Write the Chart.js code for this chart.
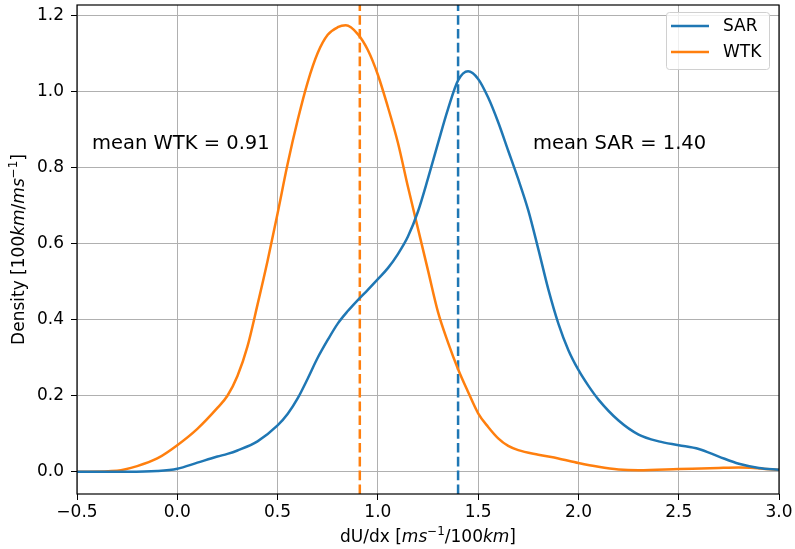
<!DOCTYPE html>
<html>
<head>
<meta charset="utf-8">
<script src="https://cdn.jsdelivr.net/npm/chart.js@4/dist/chart.umd.min.js"></script>
<style>
  html, body { margin: 0; padding: 0; background: #fff; }
  #wrap { width: 795px; height: 549px; }
</style>
</head>
<body>
<div id="wrap"><canvas id="kde"></canvas></div>
<script>
// density curves
const sarX = [-0.5, -0.25, -0.1, 0.0, 0.1, 0.2, 0.25, 0.3, 0.4, 0.5, 0.55, 0.6, 0.65, 0.7, 0.75, 0.8, 0.85, 0.9, 0.95, 1.0,
  1.05, 1.1, 1.15, 1.2, 1.25, 1.3, 1.35, 1.4, 1.45, 1.5, 1.55, 1.6, 1.65, 1.7, 1.75, 1.8, 1.85, 1.9, 1.95, 2.0,
  2.05, 2.1, 2.2, 2.3, 2.4, 2.5, 2.6, 2.7, 2.8, 2.9, 3.0];
const sarY = [0.0, 0.0, 0.002, 0.008, 0.024, 0.04, 0.047, 0.056, 0.08, 0.122, 0.152, 0.193, 0.245, 0.30, 0.347, 0.39, 0.423, 0.452, 0.479, 0.507,
  0.536, 0.573, 0.619, 0.685, 0.772, 0.865, 0.955, 1.03, 1.054, 1.034, 0.985, 0.92, 0.845, 0.77, 0.688, 0.586, 0.48, 0.39, 0.32, 0.268,
  0.226, 0.19, 0.135, 0.098, 0.08, 0.07, 0.06, 0.04, 0.021, 0.01, 0.005];

const wtkX = [-0.5, -0.3, -0.2, -0.1, 0.0, 0.1, 0.2, 0.25, 0.3, 0.35, 0.4, 0.45, 0.5, 0.55, 0.6, 0.65, 0.7, 0.75, 0.8, 0.84,
  0.9, 0.95, 1.0, 1.05, 1.1, 1.15, 1.2, 1.25, 1.3, 1.35, 1.4, 1.45, 1.5, 1.55, 1.6, 1.65, 1.7, 1.8, 1.9, 2.0,
  2.1, 2.2, 2.3, 2.5, 2.7, 2.8, 3.0];
const wtkY = [0.0, 0.003, 0.015, 0.035, 0.07, 0.113, 0.168, 0.2, 0.252, 0.33, 0.44, 0.555, 0.68, 0.81, 0.925, 1.025, 1.102, 1.15, 1.17, 1.175,
  1.152, 1.11, 1.045, 0.96, 0.866, 0.75, 0.64, 0.53, 0.42, 0.34, 0.27, 0.21, 0.154, 0.118, 0.088, 0.068, 0.057, 0.045, 0.035, 0.023,
  0.013, 0.006, 0.004, 0.007, 0.01, 0.011, 0.005];

const meanSAR = 1.40;
const meanWTK = 0.91;

const xTicks = [-0.5, 0.0, 0.5, 1.0, 1.5, 2.0, 2.5, 3.0];
const yTicks = [0.0, 0.2, 0.4, 0.6, 0.8, 1.0, 1.2];
const xMin = -0.5, xMax = 3.0;
const yMin = -0.0585, yMax = 1.2285;

const BLUE = '#1f77b4';
const ORANGE = '#ff7f0e';
const FONT = "'DejaVu Sans', sans-serif";
const FS = 17;

function pts(xs, ys) {
    return xs.map((x, i) => ({ x: x, y: ys[i] }));
}

function fmt(v) {
    return v.toFixed(1).replace('-', '\u2212');
}

// draws a run of text pieces (normal / italic / superscript) centred on x,y
function drawRich(ctx, segs, x, y, size, rotate) {
    ctx.save();
    ctx.translate(x, y);
    if (rotate) ctx.rotate(-Math.PI / 2);
    const fontOf = s => {
        const sz = s.sup ? size * 0.7 : size;
        return (s.italic ? 'italic ' : '') + sz + 'px ' + FONT;
    };
    let total = 0;
    segs.forEach(s => { ctx.font = fontOf(s); total += ctx.measureText(s.t).width; });
    let cx = -total / 2;
    ctx.fillStyle = '#000';
    ctx.textBaseline = 'alphabetic';
    ctx.textAlign = 'left';
    segs.forEach(s => {
        ctx.font = fontOf(s);
        ctx.fillText(s.t, cx, size * 0.36 - (s.sup ? size * 0.42 : 0));
        cx += ctx.measureText(s.t).width;
    });
    ctx.restore();
}

const decorPlugin = {
    id: 'decor',
    afterDraw(chart) {
        const ctx = chart.ctx;
        const a = chart.chartArea;
        const xs = chart.scales.x, ys = chart.scales.y;

        // frame
        ctx.save();
        ctx.strokeStyle = '#000';
        ctx.lineWidth = 1.2;
        ctx.strokeRect(a.left, a.top, a.right - a.left, a.bottom - a.top);
        ctx.restore();

        // annotations
        ctx.save();
        ctx.font = '19.5px ' + FONT;
        ctx.fillStyle = '#000';
        ctx.textBaseline = 'middle';
        ctx.textAlign = 'left';
        ctx.fillText('mean WTK = ' + meanWTK.toFixed(2), xs.getPixelForValue(-0.425), ys.getPixelForValue(0.864));
        ctx.fillText('mean SAR = ' + meanSAR.toFixed(2), xs.getPixelForValue(1.773), ys.getPixelForValue(0.864));
        ctx.restore();

        // legend
        const lx = 666, ly = 12, lw = 103, lh = 57;
        ctx.save();
        ctx.fillStyle = 'rgba(255,255,255,0.8)';
        ctx.strokeStyle = '#d0d0d0';
        ctx.lineWidth = 1;
        ctx.beginPath();
        ctx.roundRect(lx + 0.5, ly + 0.5, lw, lh, 3);
        ctx.fill();
        ctx.stroke();
        const items = [['SAR', BLUE], ['WTK', ORANGE]];
        items.forEach((it, i) => {
            const yy = ly + 14 + i * 26;
            ctx.strokeStyle = it[1];
            ctx.lineWidth = 2.5;
            ctx.beginPath();
            ctx.moveTo(lx + 5, yy);
            ctx.lineTo(lx + 43, yy);
            ctx.stroke();
            ctx.fillStyle = '#000';
            ctx.font = FS + 'px ' + FONT;
            ctx.textBaseline = 'middle';
            ctx.fillText(it[0], lx + 57, yy + 1);
        });
        ctx.restore();

        // axis titles
        drawRich(ctx, [
            { t: 'dU/dx [' }, { t: 'ms', italic: true }, { t: '\u22121', sup: true },
            { t: '/100' }, { t: 'km', italic: true }, { t: ']' }
        ], (a.left + a.right) / 2, 536, FS, false);
        drawRich(ctx, [
            { t: 'Density [100' }, { t: 'km', italic: true }, { t: '/' }, { t: 'ms', italic: true },
            { t: '\u22121', sup: true }, { t: ']' }
        ], 18, (a.top + a.bottom) / 2, FS, true);
    }
};

const noPad = s => { s.paddingTop = 0; s.paddingBottom = 0; s.paddingLeft = 0; s.paddingRight = 0; };

const ctx = document.getElementById('kde').getContext('2d');
new Chart(ctx, {
    type: 'scatter',
    data: {
        datasets: [
            {
                label: 'SAR',
                data: pts(sarX, sarY),
                showLine: true,
                borderColor: BLUE,
                borderWidth: 2.5,
                pointRadius: 0,
                cubicInterpolationMode: 'monotone'
            },
            {
                label: 'WTK',
                data: pts(wtkX, wtkY),
                showLine: true,
                borderColor: ORANGE,
                borderWidth: 2.5,
                pointRadius: 0,
                cubicInterpolationMode: 'monotone'
            },
            {
                label: 'mean SAR',
                data: [{ x: meanSAR, y: yMin }, { x: meanSAR, y: yMax }],
                showLine: true,
                borderColor: BLUE,
                borderWidth: 2.5,
                borderDash: [9.6, 4.2],
                pointRadius: 0
            },
            {
                label: 'mean WTK',
                data: [{ x: meanWTK, y: yMin }, { x: meanWTK, y: yMax }],
                showLine: true,
                borderColor: ORANGE,
                borderWidth: 2.5,
                borderDash: [9.6, 4.2],
                pointRadius: 0
            }
        ]
    },
    options: {
        responsive: true,
        maintainAspectRatio: false,
        animation: false,
        layout: { padding: { top: 5, right: 16, left: 0, bottom: 0 } },
        plugins: {
            legend: { display: false },
            tooltip: { enabled: false }
        },
        scales: {
            x: {
                type: 'linear',
                min: xMin,
                max: xMax,
                afterBuildTicks: s => { s.ticks = xTicks.map(v => ({ value: v })); },
                afterFit: s => { s.height = 55; noPad(s); },
                border: { display: false },
                grid: { color: '#b0b0b0', lineWidth: 1, tickColor: '#000', tickLength: 6 },
                ticks: {
                    color: '#000',
                    font: { family: FONT, size: FS },
                    padding: 2,
                    maxRotation: 0,
                    callback: v => fmt(v)
                }
            },
            y: {
                type: 'linear',
                min: yMin,
                max: yMax,
                afterBuildTicks: s => { s.ticks = yTicks.map(v => ({ value: v })); },
                afterFit: s => { s.width = 77; noPad(s); },
                border: { display: false },
                grid: { color: '#b0b0b0', lineWidth: 1, tickColor: '#000', tickLength: 6 },
                ticks: {
                    color: '#000',
                    font: { family: FONT, size: FS },
                    padding: 7,
                    callback: v => fmt(v)
                }
            }
        }
    },
    plugins: [decorPlugin]
});
</script>
</body>
</html>
